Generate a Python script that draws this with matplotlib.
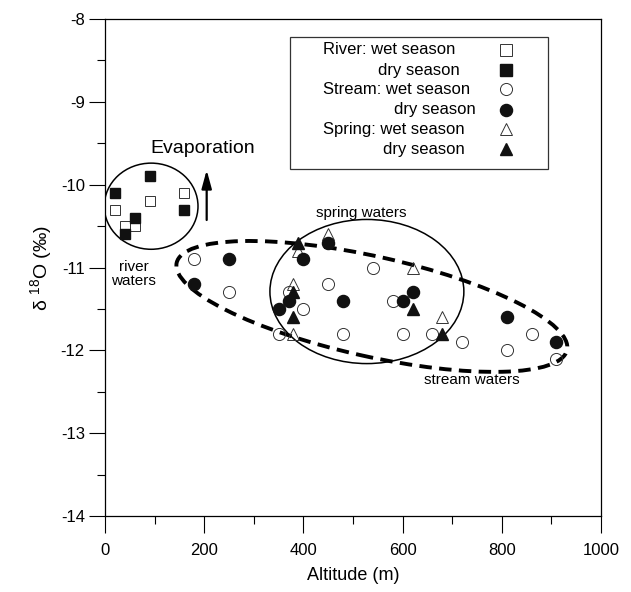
import matplotlib
matplotlib.use("Agg")
import matplotlib.pyplot as plt
from matplotlib.patches import Ellipse, Rectangle
from matplotlib.transforms import Affine2D
from matplotlib.ticker import MultipleLocator

plt.rcParams["font.family"] = ["Liberation Sans", "DejaVu Sans"]
plt.rcParams["mathtext.fontset"] = "custom"
plt.rcParams["mathtext.rm"] = "Liberation Sans"
plt.rcParams["axes.unicode_minus"] = False

# altitude (m) and d18O (permil)
river_wet_alt = [20, 40, 60, 90, 160]
river_wet_d18o = [-10.3, -10.5, -10.5, -10.2, -10.1]
river_dry_alt = [20, 40, 60, 90, 160]
river_dry_d18o = [-10.1, -10.6, -10.4, -9.9, -10.3]

stream_wet_alt = [180, 250, 350, 370, 400, 450, 480, 540, 580, 600, 660, 720, 810, 860, 910]
stream_wet_d18o = [-10.9, -11.3, -11.8, -11.3, -11.5, -11.2, -11.8, -11.0, -11.4,
                   -11.8, -11.8, -11.9, -12.0, -11.8, -12.1]
stream_dry_alt = [180, 250, 350, 370, 400, 450, 480, 600, 620, 810, 910]
stream_dry_d18o = [-11.2, -10.9, -11.5, -11.4, -10.9, -10.7, -11.4, -11.4, -11.3, -11.6, -11.9]

spring_wet_alt = [380, 380, 390, 450, 620, 680]
spring_wet_d18o = [-11.2, -11.8, -10.8, -10.6, -11.0, -11.6]
spring_dry_alt = [380, 380, 390, 620, 680]
spring_dry_d18o = [-11.3, -11.6, -10.7, -11.5, -11.8]

legend_labels = ["River: wet season", "dry season", "Stream: wet season",
                 "dry season", "Spring: wet season", "dry season"]

W, H = 631, 592
fig = plt.figure(figsize=(W / 100, H / 100), dpi=100)
ax = fig.add_axes([105 / W, 1 - 516 / H, 496 / W, 497 / H])
ax.set_xlim(0, 1000)
ax.set_ylim(-14, -8)

# groups: river circle, spring ellipse, stream (tilted, dashed)
ax.add_patch(Ellipse((93, -10.26), 189, 1.04, fill=False, lw=1.1, ec="black"))
ax.add_patch(Ellipse((528, -11.29), 391, 1.74, fill=False, lw=1.1, ec="black"))
px_per_m = 496 / 1000
px_per_unit = 497 / 6
stream_tf = Affine2D().scale(1 / px_per_m, 1 / px_per_unit).translate(538, -11.47) + ax.transData
ax.add_patch(Ellipse((0, 0), 400, 100, angle=-12.6, fill=False, lw=2.8, ec="black",
                     linestyle=(0, (3.2, 1.9)), transform=stream_tf))

open_kw = dict(linestyle="none", mfc="none", mec="#333333", mew=0.7)
fill_kw = dict(linestyle="none", mfc="#111111", mec="#111111")
ax.plot(river_wet_alt, river_wet_d18o, "s", ms=7.5, **open_kw)
ax.plot(stream_wet_alt, stream_wet_d18o, "o", ms=8.7, **open_kw)
ax.plot(spring_wet_alt, spring_wet_d18o, "^", ms=9, **open_kw)
ax.plot(river_dry_alt, river_dry_d18o, "s", ms=7.5, **fill_kw)
ax.plot(stream_dry_alt, stream_dry_d18o, "o", ms=8.7, **fill_kw)
ax.plot(spring_dry_alt, spring_dry_d18o, "^", ms=9, **fill_kw)

ax.annotate("", xy=(205, -9.79), xytext=(205, -10.46),
            arrowprops=dict(arrowstyle="-|>,head_length=1.1,head_width=0.3",
                            mutation_scale=10, lw=1.6, color="black"))
ax.text(91, -9.56, "Evaporation", fontsize=14, ha="left", va="center")
ax.text(58, -11.08, "river\nwaters", fontsize=11, ha="center", va="center",
        multialignment="center", linespacing=1.0)
ax.text(516, -10.34, "spring waters", fontsize=11, ha="center", va="center")
ax.text(739, -12.36, "stream waters", fontsize=11, ha="center", va="center")

# legend drawn by hand to keep the staggered labels
ax.add_patch(Rectangle((0.373, 0.698), 0.521, 0.266, transform=ax.transAxes,
                       fill=False, ec="#333333", lw=0.9))
row_y = [0.938, 0.897, 0.859, 0.817, 0.778, 0.738]
text_x = [0.439, 0.551, 0.439, 0.583, 0.439, 0.561]
for lab, tx, ty in zip(legend_labels, text_x, row_y):
    ax.text(tx, ty, lab, transform=ax.transAxes, fontsize=12, ha="left", va="center")
leg_markers = [("s", open_kw, 8.5), ("s", fill_kw, 8.5), ("o", open_kw, 8.7),
               ("o", fill_kw, 8.7), ("^", open_kw, 9), ("^", fill_kw, 9)]
for (m, kw, ms), ty in zip(leg_markers, row_y):
    ax.plot([0.808], [ty], m, ms=ms, transform=ax.transAxes, clip_on=False, **kw)

ax.xaxis.set_major_locator(MultipleLocator(200))
ax.xaxis.set_minor_locator(MultipleLocator(100))
ax.yaxis.set_major_locator(MultipleLocator(1))
ax.yaxis.set_minor_locator(MultipleLocator(0.5))
ax.tick_params(axis="y", which="major", direction="out", length=11.5, width=0.8,
               labelsize=12, pad=3)
ax.tick_params(axis="x", which="major", direction="out", length=12.2, width=0.8,
               labelsize=12, pad=7)
ax.tick_params(which="minor", direction="out", length=5.5, width=0.8)
for sp in ax.spines.values():
    sp.set_linewidth(0.9)

ax.set_xlabel("Altitude (m)", fontsize=13, labelpad=7)
ax.set_ylabel("δ $^{18}$O (‰)", fontsize=14, labelpad=4)

fig.savefig("out.png", dpi=100)
